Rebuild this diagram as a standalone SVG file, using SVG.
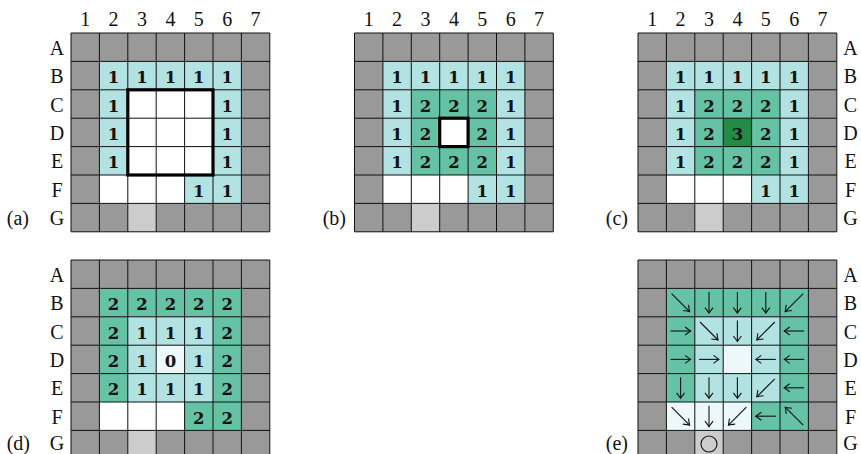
<svg xmlns="http://www.w3.org/2000/svg" xmlns:xlink="http://www.w3.org/1999/xlink" width="861" height="454" viewBox="0 0 861 454">
<style>
.g{fill:#999999}
.lg{fill:#cccccc}
.c{fill:#b2e2e2}
.m{fill:#66c2a4}
.d{fill:#238b45}
.v{fill:#edf8fb}
.w{fill:#ffffff}
.grid{fill:none;stroke:#111;stroke-width:1}
.thick{fill:none;stroke:#000;stroke-width:3.2}
.n{font-family:"DejaVu Serif","Liberation Serif",serif;font-size:16.5px;font-weight:bold;text-anchor:middle;fill:#111}
.lab{font-family:"Liberation Serif","DejaVu Serif",serif;font-size:20px;text-anchor:middle;fill:#111}
.pl{font-family:"Liberation Serif","DejaVu Serif",serif;font-size:20px;text-anchor:end;fill:#111}
.ar{fill:none;stroke:#111;stroke-width:1.1;marker-end:url(#ah)}
</style>
<defs>
<marker id="ah" markerUnits="userSpaceOnUse" markerWidth="12" markerHeight="12" viewBox="-8 -6 12 12" refX="0" refY="0" orient="auto" overflow="visible">
<path d="M-5.5,-4 Q-1.5,-1 0,0 Q-1.5,1 -5.5,4" fill="none" stroke="#111" stroke-width="1.1"/>
</marker>
<path id="grid" class="grid" d="M0,0V198.8M28.4,0V198.8M56.8,0V198.8M85.2,0V198.8M113.6,0V198.8M142,0V198.8M170.4,0V198.8M198.8,0V198.8M0,0H198.8M0,28.4H198.8M0,56.8H198.8M0,85.2H198.8M0,113.6H198.8M0,142H198.8M0,170.4H198.8M0,198.8H198.8"/>
</defs>

<!-- Panel (a) -->
<g id="panel-a" transform="translate(71,33)">
<rect class="g" width="198.8" height="198.8"/>
<rect class="lg" x="56.8" y="170.4" width="28.4" height="28.4"/>
<rect class="c" x="28.4" y="28.4" width="142" height="28.4"/>
<rect class="c" x="28.4" y="56.8" width="28.4" height="85.2"/>
<rect class="c" x="142" y="56.8" width="28.4" height="85.2"/>
<rect class="w" x="56.8" y="56.8" width="85.2" height="85.2"/>
<rect class="w" x="28.4" y="142" width="85.2" height="28.4"/>
<rect class="c" x="113.6" y="142" width="56.8" height="28.4"/>
<use xlink:href="#grid"/>
<rect class="thick" x="56.8" y="56.8" width="85.2" height="85.2"/>
<text class="n" x="42.6" y="50.1">1</text><text class="n" x="71" y="50.1">1</text><text class="n" x="99.4" y="50.1">1</text><text class="n" x="127.8" y="50.1">1</text><text class="n" x="156.2" y="50.1">1</text>
<text class="n" x="42.6" y="78.5">1</text><text class="n" x="156.2" y="78.5">1</text>
<text class="n" x="42.6" y="106.9">1</text><text class="n" x="156.2" y="106.9">1</text>
<text class="n" x="42.6" y="135.3">1</text><text class="n" x="156.2" y="135.3">1</text>
<text class="n" x="127.8" y="163.7">1</text><text class="n" x="156.2" y="163.7">1</text>
<text class="lab" x="14.2" y="-7">1</text><text class="lab" x="42.6" y="-7">2</text><text class="lab" x="71" y="-7">3</text><text class="lab" x="99.4" y="-7">4</text><text class="lab" x="127.8" y="-7">5</text><text class="lab" x="156.2" y="-7">6</text><text class="lab" x="184.6" y="-7">7</text>
<text class="lab" x="-14" y="21.7">A</text><text class="lab" x="-14" y="50.1">B</text><text class="lab" x="-14" y="78.5">C</text><text class="lab" x="-14" y="106.9">D</text><text class="lab" x="-14" y="135.3">E</text><text class="lab" x="-14" y="163.7">F</text><text class="lab" x="-14" y="192.1">G</text>
<text class="pl" x="-42" y="192.1">(a)</text>
</g>

<!-- Panel (b) -->
<g id="panel-b" transform="translate(354.5,33)">
<rect class="g" width="198.8" height="198.8"/>
<rect class="lg" x="56.8" y="170.4" width="28.4" height="28.4"/>
<rect class="c" x="28.4" y="28.4" width="142" height="28.4"/>
<rect class="c" x="28.4" y="56.8" width="28.4" height="85.2"/>
<rect class="c" x="142" y="56.8" width="28.4" height="85.2"/>
<rect class="m" x="56.8" y="56.8" width="85.2" height="85.2"/>
<rect class="w" x="85.2" y="85.2" width="28.4" height="28.4"/>
<rect class="w" x="28.4" y="142" width="85.2" height="28.4"/>
<rect class="c" x="113.6" y="142" width="56.8" height="28.4"/>
<use xlink:href="#grid"/>
<rect class="thick" x="85.2" y="85.2" width="28.4" height="28.4"/>
<text class="n" x="42.6" y="50.1">1</text><text class="n" x="71" y="50.1">1</text><text class="n" x="99.4" y="50.1">1</text><text class="n" x="127.8" y="50.1">1</text><text class="n" x="156.2" y="50.1">1</text>
<text class="n" x="42.6" y="78.5">1</text><text class="n" x="71" y="78.5">2</text><text class="n" x="99.4" y="78.5">2</text><text class="n" x="127.8" y="78.5">2</text><text class="n" x="156.2" y="78.5">1</text>
<text class="n" x="42.6" y="106.9">1</text><text class="n" x="71" y="106.9">2</text><text class="n" x="127.8" y="106.9">2</text><text class="n" x="156.2" y="106.9">1</text>
<text class="n" x="42.6" y="135.3">1</text><text class="n" x="71" y="135.3">2</text><text class="n" x="99.4" y="135.3">2</text><text class="n" x="127.8" y="135.3">2</text><text class="n" x="156.2" y="135.3">1</text>
<text class="n" x="127.8" y="163.7">1</text><text class="n" x="156.2" y="163.7">1</text>
<text class="lab" x="14.2" y="-7">1</text><text class="lab" x="42.6" y="-7">2</text><text class="lab" x="71" y="-7">3</text><text class="lab" x="99.4" y="-7">4</text><text class="lab" x="127.8" y="-7">5</text><text class="lab" x="156.2" y="-7">6</text><text class="lab" x="184.6" y="-7">7</text>
<text class="pl" x="-8.5" y="192.1">(b)</text>
</g>

<!-- Panel (c) -->
<g id="panel-c" transform="translate(638,33)">
<rect class="g" width="198.8" height="198.8"/>
<rect class="lg" x="56.8" y="170.4" width="28.4" height="28.4"/>
<rect class="c" x="28.4" y="28.4" width="142" height="28.4"/>
<rect class="c" x="28.4" y="56.8" width="28.4" height="85.2"/>
<rect class="c" x="142" y="56.8" width="28.4" height="85.2"/>
<rect class="m" x="56.8" y="56.8" width="85.2" height="85.2"/>
<rect class="d" x="85.2" y="85.2" width="28.4" height="28.4"/>
<rect class="w" x="28.4" y="142" width="85.2" height="28.4"/>
<rect class="c" x="113.6" y="142" width="56.8" height="28.4"/>
<use xlink:href="#grid"/>
<text class="n" x="42.6" y="50.1">1</text><text class="n" x="71" y="50.1">1</text><text class="n" x="99.4" y="50.1">1</text><text class="n" x="127.8" y="50.1">1</text><text class="n" x="156.2" y="50.1">1</text>
<text class="n" x="42.6" y="78.5">1</text><text class="n" x="71" y="78.5">2</text><text class="n" x="99.4" y="78.5">2</text><text class="n" x="127.8" y="78.5">2</text><text class="n" x="156.2" y="78.5">1</text>
<text class="n" x="42.6" y="106.9">1</text><text class="n" x="71" y="106.9">2</text><text class="n" x="99.4" y="106.9">3</text><text class="n" x="127.8" y="106.9">2</text><text class="n" x="156.2" y="106.9">1</text>
<text class="n" x="42.6" y="135.3">1</text><text class="n" x="71" y="135.3">2</text><text class="n" x="99.4" y="135.3">2</text><text class="n" x="127.8" y="135.3">2</text><text class="n" x="156.2" y="135.3">1</text>
<text class="n" x="127.8" y="163.7">1</text><text class="n" x="156.2" y="163.7">1</text>
<text class="lab" x="14.2" y="-7">1</text><text class="lab" x="42.6" y="-7">2</text><text class="lab" x="71" y="-7">3</text><text class="lab" x="99.4" y="-7">4</text><text class="lab" x="127.8" y="-7">5</text><text class="lab" x="156.2" y="-7">6</text><text class="lab" x="184.6" y="-7">7</text>
<text class="lab" x="212.5" y="21.7">A</text><text class="lab" x="212.5" y="50.1">B</text><text class="lab" x="212.5" y="78.5">C</text><text class="lab" x="212.5" y="106.9">D</text><text class="lab" x="212.5" y="135.3">E</text><text class="lab" x="212.5" y="163.7">F</text><text class="lab" x="212.5" y="192.1">G</text>
<text class="pl" x="-10" y="192.1">(c)</text>
</g>

<!-- Panel (d) -->
<g id="panel-d" transform="translate(71,260)">
<rect class="g" width="198.8" height="198.8"/>
<rect class="lg" x="56.8" y="170.4" width="28.4" height="28.4"/>
<rect class="m" x="28.4" y="28.4" width="142" height="28.4"/>
<rect class="m" x="28.4" y="56.8" width="28.4" height="85.2"/>
<rect class="m" x="142" y="56.8" width="28.4" height="85.2"/>
<rect class="c" x="56.8" y="56.8" width="85.2" height="85.2"/>
<rect class="v" x="85.2" y="85.2" width="28.4" height="28.4"/>
<rect class="w" x="28.4" y="142" width="85.2" height="28.4"/>
<rect class="m" x="113.6" y="142" width="56.8" height="28.4"/>
<use xlink:href="#grid"/>
<text class="n" x="42.6" y="50.1">2</text><text class="n" x="71" y="50.1">2</text><text class="n" x="99.4" y="50.1">2</text><text class="n" x="127.8" y="50.1">2</text><text class="n" x="156.2" y="50.1">2</text>
<text class="n" x="42.6" y="78.5">2</text><text class="n" x="71" y="78.5">1</text><text class="n" x="99.4" y="78.5">1</text><text class="n" x="127.8" y="78.5">1</text><text class="n" x="156.2" y="78.5">2</text>
<text class="n" x="42.6" y="106.9">2</text><text class="n" x="71" y="106.9">1</text><text class="n" x="99.4" y="106.9">0</text><text class="n" x="127.8" y="106.9">1</text><text class="n" x="156.2" y="106.9">2</text>
<text class="n" x="42.6" y="135.3">2</text><text class="n" x="71" y="135.3">1</text><text class="n" x="99.4" y="135.3">1</text><text class="n" x="127.8" y="135.3">1</text><text class="n" x="156.2" y="135.3">2</text>
<text class="n" x="127.8" y="163.7">2</text><text class="n" x="156.2" y="163.7">2</text>
<text class="lab" x="-14" y="21.7">A</text><text class="lab" x="-14" y="50.1">B</text><text class="lab" x="-14" y="78.5">C</text><text class="lab" x="-14" y="106.9">D</text><text class="lab" x="-14" y="135.3">E</text><text class="lab" x="-14" y="163.7">F</text><text class="lab" x="-14" y="189.5">G</text>
<text class="pl" x="-41" y="189.5">(d)</text>
</g>

<!-- Panel (e) -->
<g id="panel-e" transform="translate(638,260)">
<rect class="g" width="198.8" height="198.8"/>
<rect class="lg" x="56.8" y="170.4" width="28.4" height="28.4"/>
<rect class="m" x="28.4" y="28.4" width="142" height="28.4"/>
<rect class="m" x="28.4" y="56.8" width="28.4" height="85.2"/>
<rect class="m" x="142" y="56.8" width="28.4" height="85.2"/>
<rect class="c" x="56.8" y="56.8" width="85.2" height="85.2"/>
<rect class="v" x="85.2" y="85.2" width="28.4" height="28.4"/>
<rect class="v" x="28.4" y="142" width="85.2" height="28.4"/>
<rect class="m" x="113.6" y="142" width="56.8" height="28.4"/>
<use xlink:href="#grid"/>
<circle cx="71" cy="184" r="8" fill="none" stroke="#111" stroke-width="1.1"/>
<text class="lab" x="212.5" y="21.7">A</text><text class="lab" x="212.5" y="50.1">B</text><text class="lab" x="212.5" y="78.5">C</text><text class="lab" x="212.5" y="106.9">D</text><text class="lab" x="212.5" y="135.3">E</text><text class="lab" x="212.5" y="163.7">F</text><text class="lab" x="212.5" y="189.5">G</text>
<text class="pl" x="-10" y="189.5">(e)</text>
</g>

<!-- Arrows of panel (e) -->
<g id="connectors" transform="translate(638,260)">
<path class="ar" d="M33.6,33.6L51.6,51.6"/>
<path class="ar" d="M71,32.1V53.1"/>
<path class="ar" d="M99.4,32.1V53.1"/>
<path class="ar" d="M127.8,32.1V53.1"/>
<path class="ar" d="M165.2,33.6L147.2,51.6"/>
<path class="ar" d="M32.6,71H52.6"/>
<path class="ar" d="M62,62L80,80"/>
<path class="ar" d="M99.4,60.5V81.5"/>
<path class="ar" d="M136.8,62L118.8,80"/>
<path class="ar" d="M166.2,71H146.2"/>
<path class="ar" d="M32.6,99.4H52.6"/>
<path class="ar" d="M61,99.4H81"/>
<path class="ar" d="M137.8,99.4H117.8"/>
<path class="ar" d="M166.2,99.4H146.2"/>
<path class="ar" d="M42.6,117.3V138.3"/>
<path class="ar" d="M71,117.3V138.3"/>
<path class="ar" d="M99.4,117.3V138.3"/>
<path class="ar" d="M136.8,118.8L118.8,136.8"/>
<path class="ar" d="M166.2,127.8H146.2"/>
<path class="ar" d="M33.6,147.2L51.6,165.2"/>
<path class="ar" d="M71,145.7V166.7"/>
<path class="ar" d="M108.4,147.2L90.4,165.2"/>
<path class="ar" d="M137.8,156.2H117.8"/>
<path class="ar" d="M165.2,165.2L147.2,147.2"/>
</g>
</svg>
